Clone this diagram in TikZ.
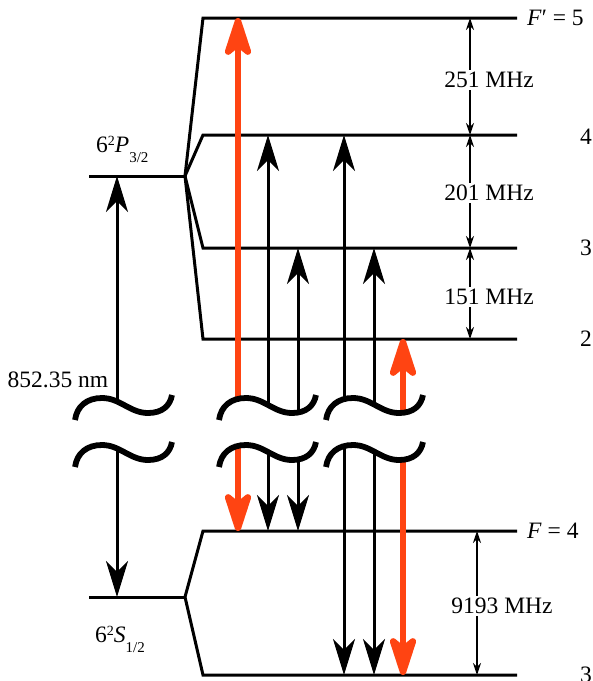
\documentclass[tikz,border=0pt]{standalone}
\usepackage{fontspec}
\setmainfont{Liberation Serif}
\usetikzlibrary{arrows.meta}
\definecolor{laserred}{RGB}{255,68,18}

\begin{document}
\begin{tikzpicture}[x=1pt,y=-1pt,
lvl/.style={line width=3pt,line join=miter},
trans/.style={line width=3pt,{Stealth[length=36pt,width=22pt,inset=11pt]}-{Stealth[length=36pt,width=22pt,inset=11pt]}},
laser/.style={line width=6.5pt,draw=laserred,{Stealth[length=50pt,width=32pt,inset=13pt,round]}-{Stealth[length=50pt,width=32pt,inset=13pt,round]}},
dim/.style={line width=1.2pt,{Stealth[length=12pt,width=8pt,inset=4pt]}-{Stealth[length=12pt,width=8pt,inset=4pt]}},
txt/.style={font=\fontsize{23.5}{28}\selectfont,inner sep=2pt},
brk/.style={line width=5.8pt}]
\useasboundingbox (0,0) rectangle (593,681);
% levels
\coordinate (Pl) at (89,176); \coordinate (Pa) at (185,176);
\coordinate (Sl) at (89,597); \coordinate (Sa) at (185,597);
\foreach \n/\y in {5/18,4/135,3/248,2/339} {
   \coordinate (P\n) at (203,\y);
   \coordinate (P\n r) at (517,\y);
}
\coordinate (S4) at (203,531); \coordinate (S4r) at (517,531);
\coordinate (S3) at (203,675); \coordinate (S3r) at (517,675);
\draw[lvl] (Pl) -- (Pa);
\draw[lvl] (Sl) -- (Sa);
\foreach \n in {5,4,3,2} {
   \draw[lvl] (Pa) -- (P\n) -- (P\n r);
}
\draw[lvl] (Sa) -- (S4) -- (S4r);
\draw[lvl] (Sa) -- (S3) -- (S3r);
% transitions
\draw[trans] (117,0 |- Sl) -- (117,0 |- Pl);
\draw[laser] (238,0 |- S4) -- (238,0 |- P5);
\foreach \x/\a/\b in {268/S4/P4,298/S4/P3,344/S3/P4,374/S3/P3} {
   \draw[trans] (\x,0 |- \a) -- (\x,0 |- \b);
}
\draw[laser] (403,0 |- S3) -- (403,0 |- P2);
% breaks
\foreach \x in {75,219,326} {
   \fill[white,shift={(\x,420)}] (0,0) .. controls (2,-14) and (12,-22) .. (27,-22)
      .. controls (45,-22) and (55,-7) .. (73,-7) .. controls (87,-7) and (95,-14) .. (97,-25)
      -- (97,22) .. controls (95,33) and (87,40) .. (73,40) .. controls (55,40) and (45,25) .. (27,25)
      .. controls (12,25) and (2,33) .. (0,47) -- cycle;
   \foreach \y in {420,467} {
      \draw[brk,shift={(\x,\y)}] (0,0) .. controls (2,-14) and (12,-22) .. (27,-22)
         .. controls (45,-22) and (55,-7) .. (73,-7) .. controls (87,-7) and (95,-14) .. (97,-25);
   }
}
% splittings
\draw[dim] (470,0 |- P5r) -- (470,0 |- P4r);
\draw[dim] (470,0 |- P4r) -- (470,0 |- P3r);
\draw[dim] (470,0 |- P3r) -- (470,0 |- P2r);
\draw[dim] (477,0 |- S4r) -- (477,0 |- S3r);
\node[txt,fill=white] (d54) at (489,80) {251 MHz};
\node[txt,fill=white] (d43) at (489,193) {201 MHz};
\node[txt,fill=white] (d32) at (489,297) {151 MHz};
\node[txt,fill=white] (d43g) at (502,606) {9193 MHz};
% labels
\node[txt,anchor=west] (lF5) at (525,18) {\textit{F}′ = 5};
\node[txt] (l4) at (586,137) {4};
\node[txt] (l3) at (586,248) {3};
\node[txt] (l2) at (586,339) {2};
\node[txt,anchor=west] (lF4) at (525,531) {\textit{F} = 4};
\node[txt] (l3g) at (586,675) {3};
\node[txt] (lnm) at (58,380) {852.35 nm};
\node[txt,anchor=base west,inner sep=0pt] (lP) at (96,152)
   {6\raisebox{7pt}{\fontsize{14}{14}\selectfont 2}\textit{P}\raisebox{-10pt}{\fontsize{15}{15}\selectfont 3/2}};
\node[txt,anchor=base west,inner sep=0pt] (lS) at (95,642)
   {6\raisebox{7pt}{\fontsize{14}{14}\selectfont 2}\textit{S}\raisebox{-10pt}{\fontsize{15}{15}\selectfont 1/2}};
\end{tikzpicture}
\end{document}
